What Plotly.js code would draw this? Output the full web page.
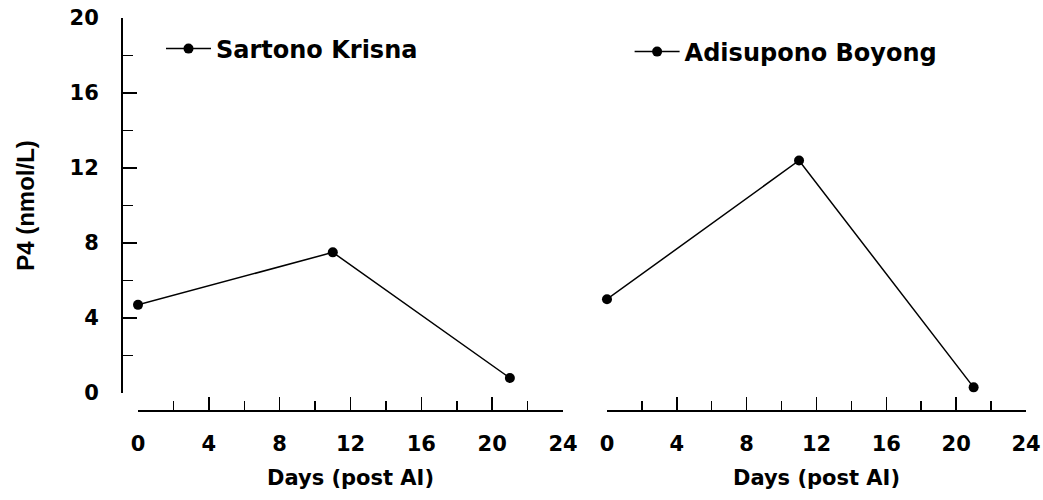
<!DOCTYPE html>
<html>
<head>
<meta charset="utf-8">
<script src="https://cdn.plot.ly/plotly-3.0.1.min.js"></script>
<style>html,body{margin:0;padding:0;background:#fff;}#chart{width:1043px;height:500px;}</style>
</head>
<body>
<div id="chart"></div>
<script>
// Data
const days = [0, 11, 21];
const sartonoKrisna = [4.7, 7.5, 0.8];
const adisuponoBoyong = [5.0, 12.4, 0.3];
const seriesNames = ["Sartono Krisna", "Adisupono Boyong"];
const xTitle = "Days (post AI)";
const yTitle = "P4 (nmol/L)";

const fontFam = "DejaVu Sans, Arial, sans-serif";
const tickFont = {family: fontFam, size: 21, color: "#000", weight: "bold"};
const titleFont = {family: fontFam, size: 21, color: "#000", weight: "bold"};

function trace(y, name, xa, lg) {
  return {
    x: days, y: y, name: name, xaxis: xa, yaxis: "y", legend: lg,
    type: "scatter", mode: "lines+markers", cliponaxis: false,
    line: {color: "#000", width: 1.5},
    marker: {color: "#000", size: 10, symbol: "circle"}
  };
}

function xAxis(domain) {
  return {
    domain: domain, range: [0, 24], anchor: "free", position: 0,
    showline: true, linecolor: "#000", linewidth: 1.5,
    ticks: "inside", ticklen: 13, tickwidth: 1.5, tickcolor: "#000",
    tick0: 0, dtick: 4,
    minor: {dtick: 2, ticks: "inside", ticklen: 9, tickwidth: 1.5, tickcolor: "#000"},
    showgrid: false, zeroline: false, fixedrange: true,
    tickfont: tickFont, ticklabelstandoff: 14,
    title: {text: xTitle, font: titleFont, standoff: 15}
  };
}

const data = [
  trace(sartonoKrisna, seriesNames[0], "x", "legend"),
  trace(adisuponoBoyong, seriesNames[1], "x2", "legend2")
];

const legendCommon = {
  xanchor: "left", yanchor: "middle", bgcolor: "rgba(0,0,0,0)", itemwidth: 45,
  font: {family: fontFam, size: 24, color: "#000", weight: "bold"}
};

const layout = {
  width: 1043, height: 500,
  margin: {l: 121, r: 17, t: 18, b: 90, pad: 0},
  paper_bgcolor: "#fff", plot_bgcolor: "#fff",
  showlegend: true,
  xaxis: xAxis([0.0188, 0.4884]),
  xaxis2: xAxis([0.537, 1]),
  yaxis: {
    domain: [0.0434, 1], range: [0, 20], anchor: "free", position: 0,
    showline: true, linecolor: "#000", linewidth: 1.5,
    ticks: "inside", ticklen: 14, tickwidth: 1.5, tickcolor: "#000",
    tick0: 0, dtick: 4,
    minor: {dtick: 2, ticks: "inside", ticklen: 10, tickwidth: 1.5, tickcolor: "#000"},
    showgrid: false, zeroline: false, fixedrange: true,
    tickfont: tickFont, ticklabelstandoff: 18,
    title: {text: yTitle, font: {family: "Liberation Sans, Arial, sans-serif", size: 24, color: "#000", weight: "bold"}, standoff: 26}
  },
  legend: Object.assign({x: 0.0442, y: (410 - 49) / 392}, legendCommon),
  legend2: Object.assign({x: 0.562, y: (410 - 52) / 392}, legendCommon)
};

Plotly.newPlot("chart", data, layout, {staticPlot: true, displayModeBar: false});
</script>
</body>
</html>
